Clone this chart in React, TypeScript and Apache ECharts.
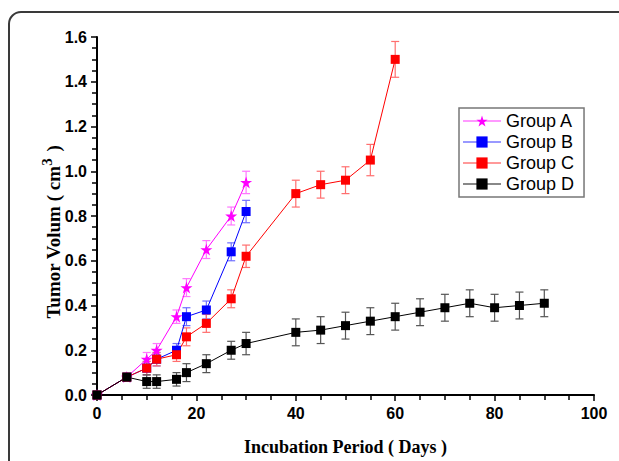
import React, { useEffect, useRef } from "react";
import * as echarts from "echarts";

const daysAB = [0, 6, 10, 12, 16, 18, 22, 27, 30];
const daysC = [0, 6, 10, 12, 16, 18, 22, 27, 30, 40, 45, 50, 55, 60];
const daysD = [0, 6, 10, 12, 16, 18, 22, 27, 30, 40, 45, 50, 55, 60, 65, 70, 75, 80, 85, 90];

const groupA = [0, 0.08, 0.16, 0.2, 0.35, 0.48, 0.65, 0.8, 0.95];
const errA = [0, 0.01, 0.03, 0.03, 0.03, 0.04, 0.04, 0.04, 0.05];
const groupB = [0, 0.08, 0.12, 0.16, 0.2, 0.35, 0.38, 0.64, 0.82];
const errB = [0, 0.01, 0.03, 0.03, 0.03, 0.04, 0.04, 0.04, 0.05];
const groupC = [0, 0.08, 0.12, 0.16, 0.18, 0.26, 0.32, 0.43, 0.62, 0.9, 0.94, 0.96, 1.05, 1.5];
const errC = [0, 0.01, 0.03, 0.03, 0.03, 0.04, 0.04, 0.04, 0.05, 0.06, 0.06, 0.06, 0.07, 0.08];
const groupD = [0, 0.08, 0.06, 0.06, 0.07, 0.1, 0.14, 0.2, 0.23, 0.28, 0.29, 0.31, 0.33, 0.35, 0.37, 0.39, 0.41, 0.39, 0.4, 0.41];
const errD = [0, 0.01, 0.03, 0.03, 0.03, 0.04, 0.04, 0.04, 0.05, 0.06, 0.06, 0.06, 0.06, 0.06, 0.06, 0.06, 0.06, 0.06, 0.06, 0.06];

const seriesNames = ["Group A", "Group B", "Group C", "Group D"];
const yTitle = "Tumor Volum ( cm{sup|3} )";
const xTitle = "Incubation Period ( Days )";

export default function App() {
  const ref = useRef<HTMLDivElement>(null);
  useEffect(() => {
    if (!ref.current) return;
    const chart = echarts.init(ref.current, null, { renderer: "svg" });

    const groups = [
      { name: seriesNames[0], x: daysAB, y: groupA, e: errA, color: "#ff00ff", light: "#ff77ff", legendLine: "#ff99ff", symbol: "path://M50,0 L61.8,36.2 L100,36.2 L69.1,58.8 L80.9,95.1 L50,72.7 L19.1,95.1 L30.9,58.8 L0,36.2 L38.2,36.2 Z", size: 12 },
      { name: seriesNames[1], x: daysAB, y: groupB, e: errB, color: "#0000ff", light: "#6f6fff", legendLine: "#9999ff", symbol: "rect", size: 9 },
      { name: seriesNames[2], x: daysC, y: groupC, e: errC, color: "#ff0000", light: "#ff6f6f", legendLine: "#ff9999", symbol: "rect", size: 9 },
      { name: seriesNames[3], x: daysD, y: groupD, e: errD, color: "#000000", light: "#555555", legendLine: "#888888", symbol: "rect", size: 9 },
    ];

    const series: any[] = [];
    groups.forEach((g) => {
      series.push({
        name: g.name + " err",
        type: "custom",
        z: 1,
        data: g.x.map((d, i) => [d, g.y[i] - g.e[i], g.y[i] + g.e[i]]),
        encode: { x: 0, y: [1, 2] },
        renderItem: (params: any, api: any) => {
          const x = api.value(0);
          const lo = api.value(1);
          const hi = api.value(2);
          const t = api.coord([x, hi]);
          const b = api.coord([x, lo]);
          const w = 4;
          const st = { stroke: g.light, lineWidth: 1.2 };
          return {
            type: "group",
            children: [
              { type: "line", shape: { x1: t[0], y1: t[1], x2: b[0], y2: b[1] }, style: st },
              { type: "line", shape: { x1: t[0] - w, y1: t[1], x2: t[0] + w, y2: t[1] }, style: st },
              { type: "line", shape: { x1: b[0] - w, y1: b[1], x2: b[0] + w, y2: b[1] }, style: st },
            ],
          };
        },
      });
    });
    groups.forEach((g) => {
      series.push({
        name: g.name,
        type: "line",
        z: 3,
        data: g.x.map((d, i) => [d, g.y[i]]),
        symbol: g.symbol,
        symbolSize: g.size,
        showAllSymbol: true,
        lineStyle: { color: g.color, width: 1 },
        itemStyle: { color: g.color },
        clip: false,
      });
    });

    const bold16 = { fontFamily: "Liberation Sans, Arial", fontWeight: "bold", fontSize: 16, color: "#000" };
    const serif = "Liberation Serif, Times New Roman";

    chart.setOption({
      animation: false,
      backgroundColor: "#fff",
      grid: { left: 97, right: 25, top: 37, bottom: 60 },
      graphic: [
        {
          type: "rect",
          shape: { x: 9, y: 12, width: 700, height: 520, r: 12 },
          style: { fill: "none", stroke: "#3a3a3a", lineWidth: 2 },
          silent: true,
          z: -1,
        },
        {
          type: "text",
          x: 53,
          y: 232,
          rotation: Math.PI / 2,
          style: {
            text: yTitle,
            fontFamily: serif,
            fontWeight: "bold",
            fontSize: 19,
            fill: "#000",
            align: "center",
            verticalAlign: "middle",
            rich: {
              sup: {
                fontFamily: serif,
                fontWeight: "bold",
                fontSize: 15,
                fill: "#000",
                verticalAlign: "bottom",
                padding: [0, 2, 12, 0],
              },
            },
          },
        },
      ],
      legend: {
        orient: "vertical",
        left: 459,
        top: 108,
        width: 121,
        padding: [4, 10, 4, 3],
        itemWidth: 38,
        itemHeight: 14,
        itemGap: 3,
        borderColor: "#777",
        borderWidth: 1.5,
        backgroundColor: "#fff",
        textStyle: { fontFamily: "Liberation Sans, Arial", fontSize: 18, color: "#000", padding: [0, 0, 0, 0] },
        data: groups.map((g) => ({
          name: g.name,
          lineStyle: { color: g.legendLine, width: 2 },
        })),
      },
      xAxis: {
        type: "value",
        min: 0,
        max: 100,
        interval: 20,
        name: xTitle,
        nameLocation: "middle",
        nameGap: 43,
        nameTextStyle: { fontFamily: serif, fontWeight: "bold", fontSize: 18, color: "#000" },
        axisLine: { show: true, lineStyle: { color: "#000", width: 2 } },
        axisTick: { show: true, length: 6, lineStyle: { color: "#000", width: 1.5 } },
        minorTick: { show: true, splitNumber: 4, length: 5, lineStyle: { color: "#000", width: 1.5 } },
        splitLine: { show: false },
        axisLabel: { ...bold16, margin: 10 },
      },
      yAxis: {
        type: "value",
        min: 0,
        max: 1.6,
        interval: 0.2,
        axisLine: { show: true, lineStyle: { color: "#000", width: 2 } },
        axisTick: { show: true, length: 6, lineStyle: { color: "#000", width: 1.5 } },
        minorTick: { show: true, splitNumber: 4, length: 5, lineStyle: { color: "#000", width: 1.5 } },
        splitLine: { show: false },
        axisLabel: { ...bold16, margin: 10, formatter: (v: number) => v.toFixed(1) },
      },
      series,
    });
    return () => chart.dispose();
  }, []);
  return (
    <div
      ref={ref}
      style={{ position: "fixed", left: 0, top: 0, width: 619, height: 461, background: "#fff" }}
    />
  );
}
